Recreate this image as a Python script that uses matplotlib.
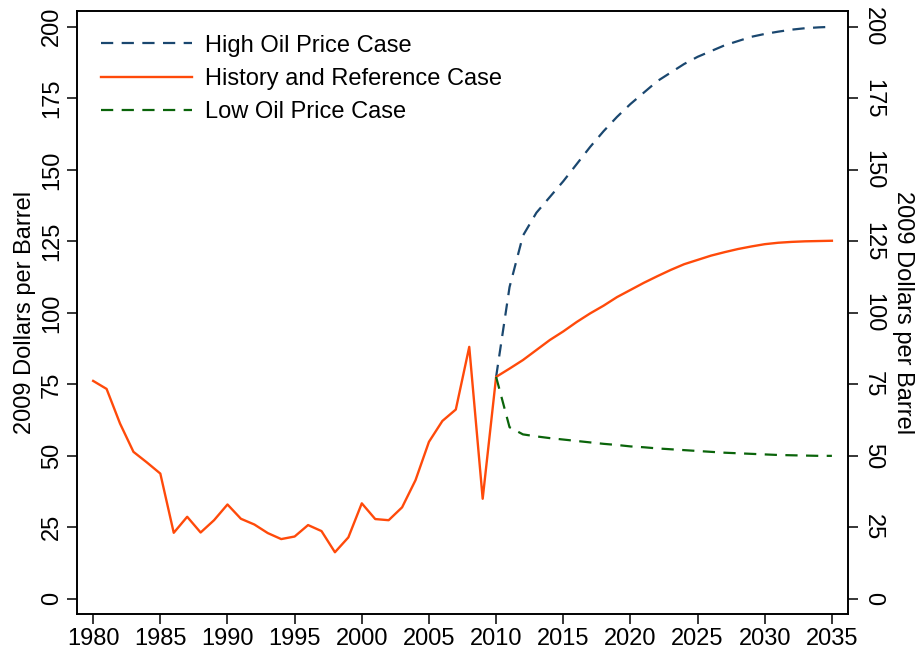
#!/usr/bin/env python3
# -*- coding: utf-8 -*-

import matplotlib
matplotlib.use('Agg')
import matplotlib.pyplot as plt

plt.rcParams['font.family'] = ['Liberation Sans', 'DejaVu Sans']

# history 1980-2010
hist_years = list(range(1980, 2011))
hist_price = [76.2, 73.4, 61.3, 51.4, 47.7, 43.8, 23.1, 28.7, 23.2, 27.5,
              33.0, 28.0, 26.0, 23.0, 20.9, 21.8, 25.8, 23.7, 16.3, 21.5,
              33.4, 27.9, 27.5, 32.0, 41.5, 54.9, 62.2, 66.2, 88.1, 35.0,
              77.6]

# projections 2010-2035
proj_years = list(range(2010, 2036))
ref_price = [77.6, 80.5, 83.5, 87.0, 90.5, 93.5, 96.8, 99.8, 102.5, 105.5,
             108.0, 110.5, 112.8, 115.0, 117.0, 118.5, 120.0, 121.2, 122.3,
             123.2, 124.0, 124.5, 124.8, 125.0, 125.1, 125.2]
high_price = [77.6, 109.0, 127.0, 135.0, 140.5, 146.0, 152.0, 158.0, 163.5,
              168.5, 173.0, 177.0, 181.0, 184.0, 187.0, 189.5, 191.5, 193.5,
              195.0, 196.5, 197.5, 198.3, 199.0, 199.5, 199.8, 200.0]
low_price = [77.6, 60.0, 57.5, 56.8, 56.2, 55.7, 55.2, 54.7, 54.2, 53.8,
             53.3, 53.0, 52.6, 52.3, 52.0, 51.7, 51.4, 51.1, 50.9, 50.7,
             50.5, 50.3, 50.2, 50.1, 50.0, 50.0]

yticks = [0, 25, 50, 75, 100, 125, 150, 175, 200]
xticks = list(range(1980, 2036, 5))

c_ref = '#ff4a0a'
c_high = '#1a476f'
c_low = '#0a640a'

fs = 17

fig = plt.figure(figsize=(9.15, 6.51), dpi=100)
ax = fig.add_axes([0.0842, 0.0568, 0.8426, 0.9262])

ax.plot(proj_years, high_price, color=c_high, lw=1.6, dashes=(5.5, 3.8),
        label='High Oil Price Case')
ax.plot(hist_years + proj_years[1:], hist_price + ref_price[1:], color=c_ref,
        lw=1.7, label='History and Reference Case')
ax.plot(proj_years, low_price, color=c_low, lw=1.6, dashes=(5.5, 3.8),
        label='Low Oil Price Case')

ax.set_xlim(1978.8, 2036.2)
ax.set_ylim(-5.3, 205.5)
ax.set_xticks(xticks)
ax.set_yticks(yticks)
ax.tick_params(axis='both', labelsize=fs, length=7, width=1.1, pad=3)
ax.tick_params(axis='y', labelrotation=90)
for lab in ax.get_yticklabels():
    lab.set_va('center')
ax.set_ylabel('2009 Dollars per Barrel', fontsize=fs, labelpad=4)

ax2 = ax.twinx()
ax2.set_ylim(ax.get_ylim())
ax2.set_yticks(yticks)
ax2.tick_params(axis='y', labelsize=fs, length=7, width=1.1, pad=3,
                labelrotation=-90)
for lab in ax2.get_yticklabels():
    lab.set_va('center')
ax2.set_ylabel('2009 Dollars per Barrel', fontsize=fs, rotation=-90,
               labelpad=22)

for a in (ax, ax2):
    for sp in a.spines.values():
        sp.set_linewidth(1.2)

ax.legend(loc='upper left', bbox_to_anchor=(0.0, 1.0), frameon=False,
          fontsize=fs, handlelength=3.85, handletextpad=0.56,
          labelspacing=0.47, borderaxespad=0.6)

fig.savefig('out.png', dpi=100)
